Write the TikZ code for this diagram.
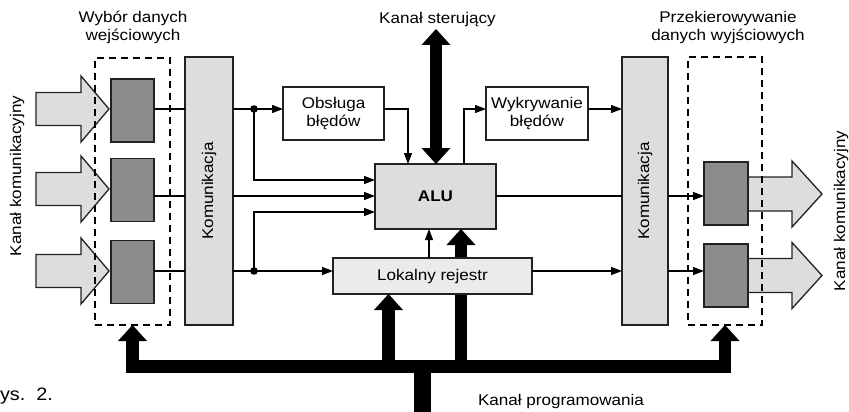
\documentclass[tikz,border=0pt]{standalone}
\usepackage{fontspec}
\setmainfont{Liberation Sans}[FakeStretch=1.1]
\usetikzlibrary{arrows.meta}
\definecolor{lightfill}{HTML}{DDDDDD}
\definecolor{paler}{HTML}{EBEBEB}
\definecolor{darkfill}{HTML}{8C8C8C}
\definecolor{edge}{HTML}{222222}
\begin{document}
\begin{tikzpicture}[x=1pt,y=-1pt,
  font=\fontsize{15.5}{17.5}\selectfont,
  every node/.style={inner sep=0pt, outer sep=0pt},
  blk/.style={draw=edge, line width=1.4pt, rectangle},
  lightbox/.style={blk, fill=lightfill},
  whitebox/.style={blk, fill=white, align=center, minimum height=53pt},
  darkbox/.style={blk, fill=darkfill, minimum width=43pt, minimum height=63pt},
  selbox/.style={draw=black, line width=1.3pt, dash pattern=on 7pt off 5pt},
  conn/.style={line width=1.3pt, -{Triangle[length=11pt,width=8pt]}},
  plain/.style={line width=1.3pt},
  bus/.style={line width=12.5pt, line join=miter},
  bigtip/.tip={Triangle[length=16pt,width=29pt,line width=0pt]},
  blockarrow/.style={draw=edge, line width=1.3pt, fill=lightfill, line join=miter}
]
\useasboundingbox (0,0) rectangle (849,412);
\fill[white] (0,0) rectangle (849,412);

% block arrows (communication channels)
\foreach \y in {109,189,271}{
  \filldraw[blockarrow] (36,\y-16.5) -- (81,\y-16.5) -- (81,\y-33) -- (109,\y)
    -- (81,\y+33) -- (81,\y+16.5) -- (36,\y+16.5) -- cycle;
}
\foreach \y in {194,275.5}{
  \filldraw[blockarrow] (748,\y-17) -- (792,\y-17) -- (792,\y-33) -- (822,\y)
    -- (792,\y+33) -- (792,\y+17) -- (748,\y+17) -- cycle;
}

% input / output registers
\node[darkbox] (inL1) at (132.5,110.5) {};
\node[darkbox] (inL2) at (132.5,190) {};
\node[darkbox] (inL3) at (132.5,272) {};
\node[darkbox, minimum width=44pt] (outR1) at (726,193.5) {};
\node[darkbox, minimum width=44pt] (outR2) at (726,275.5) {};

% dashed selection boxes
\node[selbox, minimum width=75pt, minimum height=267pt] (selL) at (132.5,191.5) {};
\node[selbox, minimum width=74pt, minimum height=268pt] (selR) at (725,191) {};

% main blocks
\node[lightbox, minimum width=48pt, minimum height=268pt] (komL) at (209,191) {};
\node[rotate=90] (komLtxt) at (komL.center) {Komunikacja};
\node[lightbox, minimum width=46pt, minimum height=268pt] (komR) at (645,191) {};
\node[rotate=90] (komRtxt) at (komR.center) {Komunikacja};
\node[whitebox, minimum width=101pt] (obs) at (333.5,113.5) {Obsługa\\błędów};
\node[whitebox, minimum width=102pt] (wyk) at (537,113.5) {Wykrywanie\\błędów};
\node[lightbox, minimum width=121pt, minimum height=65pt, font=\fontsize{15.5}{17.5}\selectfont\bfseries] (alu) at (435.5,196.5) {ALU};

% thick bus line passing behind the local register
\coordinate (busY) at (0,366.5);
\coordinate (b2) at (461,366.5);
\draw[bus, -{bigtip}] (b2) -- (alu.south -| b2);

\node[blk, fill=paler, minimum width=199pt, minimum height=36pt] (lok) at (432.5,276) {Lokalny rejestr};

% programming bus
\draw[bus, {bigtip}-{bigtip}] (selL.south) -- (selL.south |- busY) -- (selR.south |- busY) -- (selR.south);
\coordinate (b1) at (388.5,366.5);
\draw[bus, -{bigtip}] (b1) -- (lok.south -| b1);
\coordinate (stemtop) at (422,366.5);
\coordinate (stembot) at (422,416);
\draw[line width=17pt] (stemtop) -- (stembot);

% control channel
\coordinate (ctop) at (436,29);
\draw[bus, {bigtip}-{bigtip}] (ctop) -- (alu.north -| ctop);

% thin connectors
\coordinate (r1) at (0,109);
\coordinate (r2) at (0,196);
\coordinate (r3) at (0,271);
\coordinate (j1) at (254,109);
\coordinate (j3) at (254,271);
\draw[plain] (inL1.east |- r1) -- (komL.west |- r1);
\draw[plain] (inL2.east |- r2) -- (komL.west |- r2);
\draw[plain] (inL3.east |- r3) -- (komL.west |- r3);
\draw[conn] (komL.east |- r1) -- (obs.west |- r1);
\draw[conn] (j1) |- (alu.west |- 0,180);
\draw[conn] (komL.east |- r2) -- (alu.west |- r2);
\draw[conn] (j3) |- (alu.west |- 0,212);
\draw[conn] (komL.east |- r3) -- (lok.west |- r3);
\fill (j1) circle (3.8pt);
\fill (j3) circle (3.8pt);
\draw[conn] (obs.east |- r1) -| (alu.north -| 408,0);
\draw[conn] (alu.north -| 464,0) |- (wyk.west |- r1);
\draw[conn] (wyk.east |- r1) -- (komR.west |- r1);
\draw[plain] (alu.east |- r2) -- (komR.west |- r2);
\draw[conn] (lok.east |- r3) -- (komR.west |- r3);
\draw[conn] (komR.east |- r2) -- (outR1.west |- r2);
\draw[conn] (komR.east |- r3) -- (outR2.west |- r3);
\draw[conn] (lok.north -| 429,0) -- (alu.south -| 429,0);

% labels
\node[align=center] (lblin) at (133,27.5) {Wybór danych\\wejściowych};
\node[align=center] (lblout) at (728,27.5) {Przekierowywanie\\danych wyjściowych};
\node[anchor=base] (lblctrl) at (437.5,23.5) {Kanał sterujący};
\node[anchor=base] (lblprog) at (561,405) {Kanał programowania};
\node[rotate=90, anchor=base] (lblchL) at (21,176) {Kanał komunikacyjny};
\node[rotate=90, anchor=base] (lblchR) at (845,211) {Kanał komunikacyjny};
\node[anchor=base west, font=\fontsize{18}{20}\selectfont] (fig) at (0,400) {ys.~~2.};
\end{tikzpicture}
\end{document}
